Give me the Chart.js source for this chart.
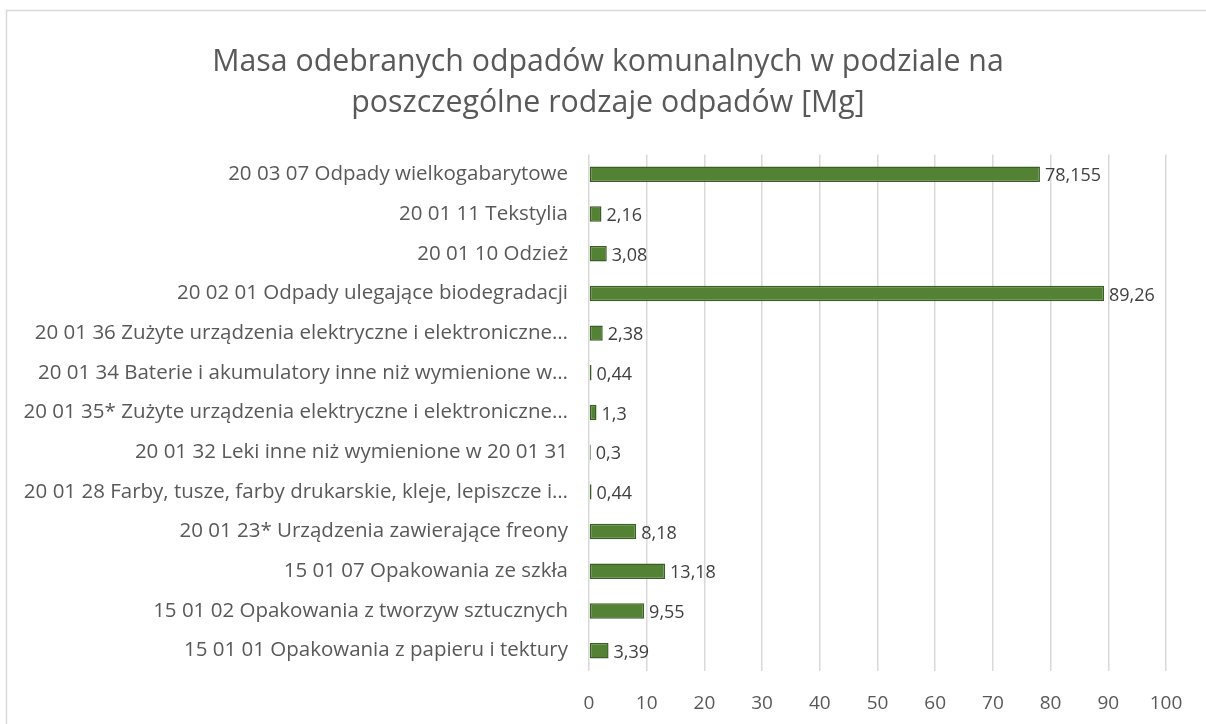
<!DOCTYPE html>
<html>
<head>
<meta charset="utf-8">
<script src="https://cdn.jsdelivr.net/npm/chart.js@4"></script>
<style>
  html, body { margin: 0; padding: 0; background: #fff; }
  #wrap { width: 1206px; height: 724px; }
</style>
</head>
<body>
<div id="wrap"><canvas id="odpadychart"></canvas></div>
<script>
var categories = [
  "20 03 07 Odpady wielkogabarytowe",
  "20 01 11 Tekstylia",
  "20 01 10 Odzież",
  "20 02 01 Odpady ulegające biodegradacji",
  "20 01 36 Zużyte urządzenia elektryczne i elektroniczne…",
  "20 01 34 Baterie i akumulatory inne niż wymienione w…",
  "20 01 35* Zużyte urządzenia elektryczne i elektroniczne…",
  "20 01 32 Leki inne niż wymienione w 20 01 31",
  "20 01 28 Farby, tusze, farby drukarskie, kleje, lepiszcze i…",
  "20 01 23* Urządzenia zawierające freony",
  "15 01 07 Opakowania ze szkła",
  "15 01 02 Opakowania z tworzyw sztucznych",
  "15 01 01 Opakowania z papieru i tektury"
];
var masa = [78.155, 2.16, 3.08, 89.26, 2.38, 0.44, 1.3, 0.3, 0.44, 8.18, 13.18, 9.55, 3.39];
var xTicks = [0, 10, 20, 30, 40, 50, 60, 70, 80, 90, 100];
var titleLines = ["Masa odebranych odpadów komunalnych w podziale na", "poszczególne rodzaje odpadów [Mg]"];

var fontFamily = "'Open Sans', 'Noto Sans', sans-serif";

// frame around the whole chart, like the excel chart area
var framePlugin = {
  id: 'frame',
  beforeDraw: function(chart) {
    var ctx = chart.ctx;
    ctx.save();
    ctx.fillStyle = '#ffffff';
    ctx.fillRect(0, 0, chart.width, chart.height);
    ctx.strokeStyle = '#d9d9d9';
    ctx.lineWidth = 1.5;
    ctx.strokeRect(6.5, 10.5, chart.width + 10, chart.height + 10);
    ctx.restore();
  }
};

// title centred over the whole chart area (excel centres it a bit right of the plot)
var titlePlugin = {
  id: 'excelTitle',
  afterDraw: function(chart) {
    var ctx = chart.ctx;
    ctx.save();
    ctx.font = '30.3px ' + fontFamily;
    ctx.fillStyle = '#595959';
    ctx.textAlign = 'center';
    ctx.textBaseline = 'middle';
    titleLines.forEach(function(line, i) {
      ctx.fillText(line, 608, 62 + i * 41);
    });
    ctx.restore();
  }
};

// value labels at the end of each bar
var valueLabels = {
  id: 'valueLabels',
  afterDatasetsDraw: function(chart) {
    var ctx = chart.ctx;
    var meta = chart.getDatasetMeta(0);
    ctx.save();
    ctx.font = '18px ' + fontFamily;
    ctx.fillStyle = '#404040';
    ctx.textAlign = 'left';
    ctx.textBaseline = 'middle';
    meta.data.forEach(function(bar, i) {
      var txt = String(masa[i]).replace('.', ',');
      ctx.fillText(txt, bar.x + 5, bar.y + 2);
    });
    ctx.restore();
  }
};

var ctx = document.getElementById("odpadychart").getContext("2d");
var odpadychart = new Chart(ctx, {
  type: 'bar',
  data: {
    labels: categories,
    datasets: [{
      data: masa,
      backgroundColor: '#548235',
      borderColor: '#3b5e26',
      borderWidth: 1.5,
      borderSkipped: false,
      barPercentage: 0.78,
      categoryPercentage: 0.5
    }]
  },
  options: {
    indexAxis: 'y',
    responsive: true,
    maintainAspectRatio: false,
    animation: false,
    layout: { padding: { left: 0, right: 40, top: 154.5, bottom: 4 } },
    plugins: {
      legend: { display: false },
      tooltip: { enabled: false },
      title: { display: false }
    },
    scales: {
      x: {
        min: 0,
        max: 100,
        afterBuildTicks: function(scale) {
          scale.ticks = xTicks.map(function(v) { return { value: v }; });
        },
        afterFit: function(scale) { scale.height = 49.5; },
        grid: { color: '#d9d9d9', lineWidth: 1.5, drawTicks: false },
        border: { display: false },
        ticks: {
          color: '#595959',
          padding: 22,
          font: { family: fontFamily, size: 19 }
        }
      },
      y: {
        grid: { display: false, drawTicks: false },
        border: { display: false },
        afterFit: function(scale) { scale.width = 589; },
        ticks: {
          color: '#595959',
          padding: 21,
          autoSkip: false,
          font: { family: fontFamily, size: 20.5 }
        }
      }
    }
  },
  plugins: [framePlugin, titlePlugin, valueLabels]
});
</script>
</body>
</html>
